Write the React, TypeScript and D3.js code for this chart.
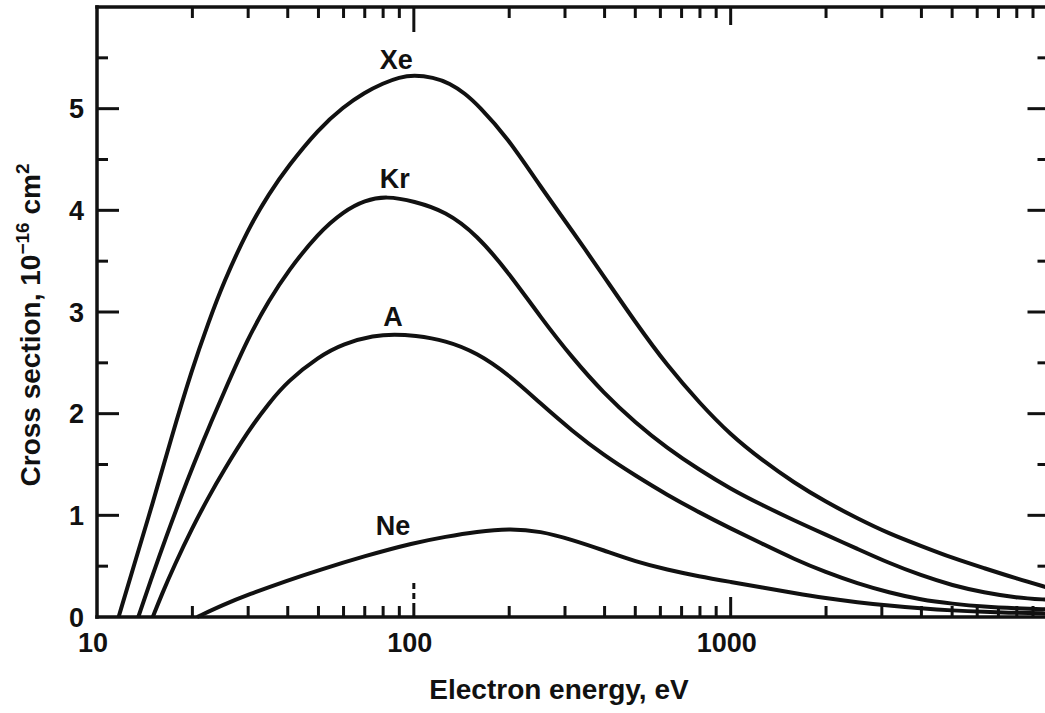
import React from "react";
import * as d3 from "d3";

// energies (eV) and cross sections (1e-16 cm^2)
const xeEnergy = [11.7, 13, 15, 17, 20, 22.5, 25, 30, 35, 40, 50, 60, 70, 80, 90, 100, 115, 130, 145, 160, 197, 250, 316, 400, 500, 631, 800, 1000, 1260, 1585, 2000, 2512, 3162, 3981, 5012, 6310, 7943, 10000];
const xeSigma = [0, 0.48, 1.12, 1.72, 2.45, 2.9, 3.28, 3.82, 4.17, 4.43, 4.8, 5.02, 5.16, 5.25, 5.31, 5.33, 5.31, 5.25, 5.15, 5.03, 4.72, 4.24, 3.8, 3.34, 2.9, 2.47, 2.1, 1.79, 1.54, 1.32, 1.13, 0.97, 0.82, 0.7, 0.58, 0.48, 0.38, 0.29];

const krEnergy = [13.5, 15, 16.5, 18.5, 20, 22.5, 25, 30, 35, 40, 50, 60, 70, 82, 100, 126, 158, 200, 251, 316, 398, 501, 631, 794, 1000, 1259, 1585, 1995, 2512, 3162, 3981, 5012, 6310, 7943, 10000];
const krSigma = [0, 0.42, 0.78, 1.2, 1.47, 1.86, 2.19, 2.75, 3.12, 3.4, 3.78, 3.99, 4.1, 4.14, 4.09, 3.99, 3.76, 3.38, 2.95, 2.55, 2.2, 1.91, 1.66, 1.45, 1.26, 1.1, 0.95, 0.81, 0.67, 0.53, 0.41, 0.31, 0.24, 0.19, 0.17];

const arEnergy = [15, 16, 17.5, 20, 22.5, 25, 30, 35, 40, 50, 60, 75, 87, 100, 126, 158, 200, 251, 316, 398, 501, 631, 794, 1000, 1259, 1585, 1995, 2512, 3162, 3981, 5012, 6310, 7943, 10000];
const arSigma = [0, 0.22, 0.5, 0.88, 1.18, 1.43, 1.83, 2.11, 2.32, 2.56, 2.69, 2.77, 2.78, 2.77, 2.72, 2.6, 2.38, 2.1, 1.83, 1.59, 1.39, 1.2, 1.03, 0.87, 0.72, 0.57, 0.44, 0.33, 0.24, 0.17, 0.13, 0.1, 0.085, 0.075];

const neEnergy = [20.7, 25, 30, 40, 50, 70, 100, 126, 158, 200, 251, 316, 398, 501, 631, 794, 1000, 1259, 1585, 1995, 2512, 3162, 3981, 5012, 6310, 7943, 10000];
const neSigma = [0, 0.12, 0.22, 0.36, 0.46, 0.6, 0.73, 0.79, 0.84, 0.87, 0.845, 0.76, 0.655, 0.545, 0.465, 0.4, 0.345, 0.29, 0.235, 0.185, 0.145, 0.112, 0.085, 0.064, 0.05, 0.04, 0.035];

const gasNames = ["Xe", "Kr", "A", "Ne"];
const labelEnergy = [88, 87, 86, 86];
const labelSigma = [5.39, 4.22, 2.86, 0.81];

const xTickLabels = [10, 100, 1000];
const yTickLabels = [0, 1, 2, 3, 4, 5];

const W = 1045;
const H = 713;
const font = "'Liberation Sans', Arial, Helvetica, sans-serif";
const ink = "#111";

export default function App() {
    const x = d3.scaleLog().domain([10, 10000]).range([97, 1047.5]);
    const y = d3.scaleLinear().domain([0, 6]).range([617, 7]);

    const series = [
        { e: xeEnergy, s: xeSigma },
        { e: krEnergy, s: krSigma },
        { e: arEnergy, s: arSigma },
        { e: neEnergy, s: neSigma },
    ];

    const line = d3.line<[number, number]>()
        .x(d => x(d[0]))
        .y(d => y(d[1]))
        .curve(d3.curveBasis);

    // minor ticks 20..90, 200..900, 2000..9000
    const minor: number[] = [];
    [10, 100, 1000].forEach(dec => {
        for (let m = 2; m <= 9; m++) minor.push(dec * m);
    });

    const halfTicks = d3.range(0.5, 6, 1);
    const [x0, x1] = x.range();
    const [y0, y1] = y.range();

    return (
        <svg width={W} height={H} style={{ position: "absolute", left: 0, top: 0, background: "#fff" }}>
            <rect x={0} y={0} width={W} height={H} fill="#fff" />
            <g stroke={ink} strokeWidth={3.5} fill="none" strokeLinecap="square">
                <line x1={x0} y1={y1} x2={x0} y2={y0} />
                <line x1={x0} y1={y0} x2={x1} y2={y0} />
                <line x1={x0} y1={y1} x2={x1} y2={y1} />
                <line x1={x1 + 1} y1={y1} x2={x1 + 1} y2={y0} />
            </g>
            <g stroke={ink} strokeWidth={3}>
                {minor.map(v => (
                    <g key={"mx" + v}>
                        <line x1={x(v)} x2={x(v)} y1={y0} y2={y0 - 11} />
                        <line x1={x(v)} x2={x(v)} y1={y1} y2={y1 + 11} />
                    </g>
                ))}
                <line x1={x(100)} x2={x(100)} y1={y0} y2={y0 - 34} strokeDasharray="14,4,6,4,8" />
                <line x1={x(1000)} x2={x(1000)} y1={y0} y2={y0 - 20} />
                <line x1={x(100)} x2={x(100)} y1={y1} y2={y1 + 25} />
                <line x1={x(1000)} x2={x(1000)} y1={y1} y2={y1 + 18} />
                {yTickLabels.filter(v => v > 0).map(v => (
                    <g key={"my" + v}>
                        <line x1={x0} x2={x0 + 22} y1={y(v)} y2={y(v)} />
                        <line x1={x1} x2={x1 - 20} y1={y(v)} y2={y(v)} />
                    </g>
                ))}
                {halfTicks.map(v => (
                    <g key={"hy" + v}>
                        <line x1={x0} x2={x0 + 11} y1={y(v)} y2={y(v)} />
                        <line x1={x1} x2={x1 - 10} y1={y(v)} y2={y(v)} />
                    </g>
                ))}
            </g>
            <g fill="none" stroke={ink} strokeWidth={4} strokeLinejoin="round">
                {series.map((d, i) => (
                    <path key={gasNames[i]} d={line(d.e.map((e, j) => [e, d.s[j]] as [number, number])) || ""} />
                ))}
            </g>
            <g fontFamily={font} fontWeight="bold" fill={ink}>
                {gasNames.map((n, i) => (
                    <text key={"l" + n} x={x(labelEnergy[i])} y={y(labelSigma[i])} fontSize={27} textAnchor="middle">{n}</text>
                ))}
                {yTickLabels.map(v => (
                    <text key={"yl" + v} x={84} y={y(v)} dy="0.36em" fontSize={27} textAnchor="end">{v}</text>
                ))}
                {xTickLabels.map(v => (
                    <text key={"xl" + v} x={x(v) - 4} y={652} fontSize={27} textAnchor="middle">{v}</text>
                ))}
                <text x={559} y={699} fontSize={28} textAnchor="middle">Electron energy, eV</text>
                <text transform="translate(40, 325) rotate(-90)" fontSize={28} textAnchor="middle">
                    Cross section, 10<tspan dy={-11} fontSize={19}>−16</tspan><tspan dy={11}> cm</tspan><tspan dy={-11} fontSize={19}>2</tspan>
                </text>
            </g>
        </svg>
    );
}
